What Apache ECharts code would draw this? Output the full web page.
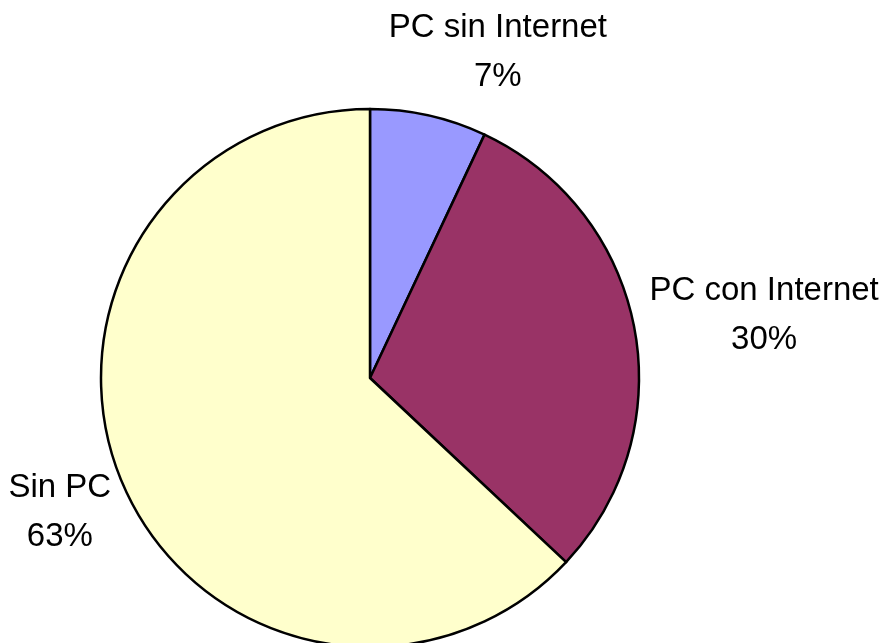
<!DOCTYPE html>
<html>
<head>
<meta charset="utf-8">
<style>html,body{margin:0;padding:0;background:#fff;}#c{width:887px;height:643px;}</style>
<script src="https://cdn.jsdelivr.net/npm/echarts@6/dist/echarts.min.js"></script>
</head>
<body>
<div id="c"></div>
<script>
const categories = ['PC sin Internet', 'PC con Internet', 'Sin PC'];
const values = [7, 30, 63];
const colors = ['#9999FF', '#993366', '#FFFFCC'];
const lineLen = [65, 63, 69];
const lineLen2 = [55, 68, 0];

const total = values.reduce((a, b) => a + b, 0);
let acc = 0;
const rightSide = values.map(v => { const mid = (acc + v / 2) / total; acc += v; return mid < 0.5; });

const chart = echarts.init(document.getElementById('c'), null, {renderer: 'canvas'});
chart.setOption({
  animation: false,
  backgroundColor: '#ffffff',
  series: [{
    type: 'pie',
    center: [370, 378],
    radius: 269,
    startAngle: 90,
    clockwise: true,
    avoidLabelOverlap: false,
    itemStyle: {borderColor: '#000', borderWidth: 2.5},
    label: {
      show: true,
      position: 'outside',
      formatter: '{b}\n{d}%',
      fontFamily: 'Liberation Sans, Arial, sans-serif',
      fontSize: 33,
      lineHeight: 49,
      color: '#000',
      distanceToLabelLine: 0,
      alignTo: 'none'
    },
    labelLine: {show: false},
    labelLayout: function (p) {
      const r = p.labelRect;
      const right = rightSide[p.dataIndex];
      return {
        x: right ? r.x : r.x + r.width,
        y: r.y + r.height / 2,
        align: 'center',
        verticalAlign: 'middle'
      };
    },
    data: categories.map((n, i) => ({
      name: n,
      value: values[i],
      itemStyle: {color: colors[i]},
      labelLine: {length: lineLen[i], length2: lineLen2[i]}
    }))
  }]
});
</script>
</body>
</html>
